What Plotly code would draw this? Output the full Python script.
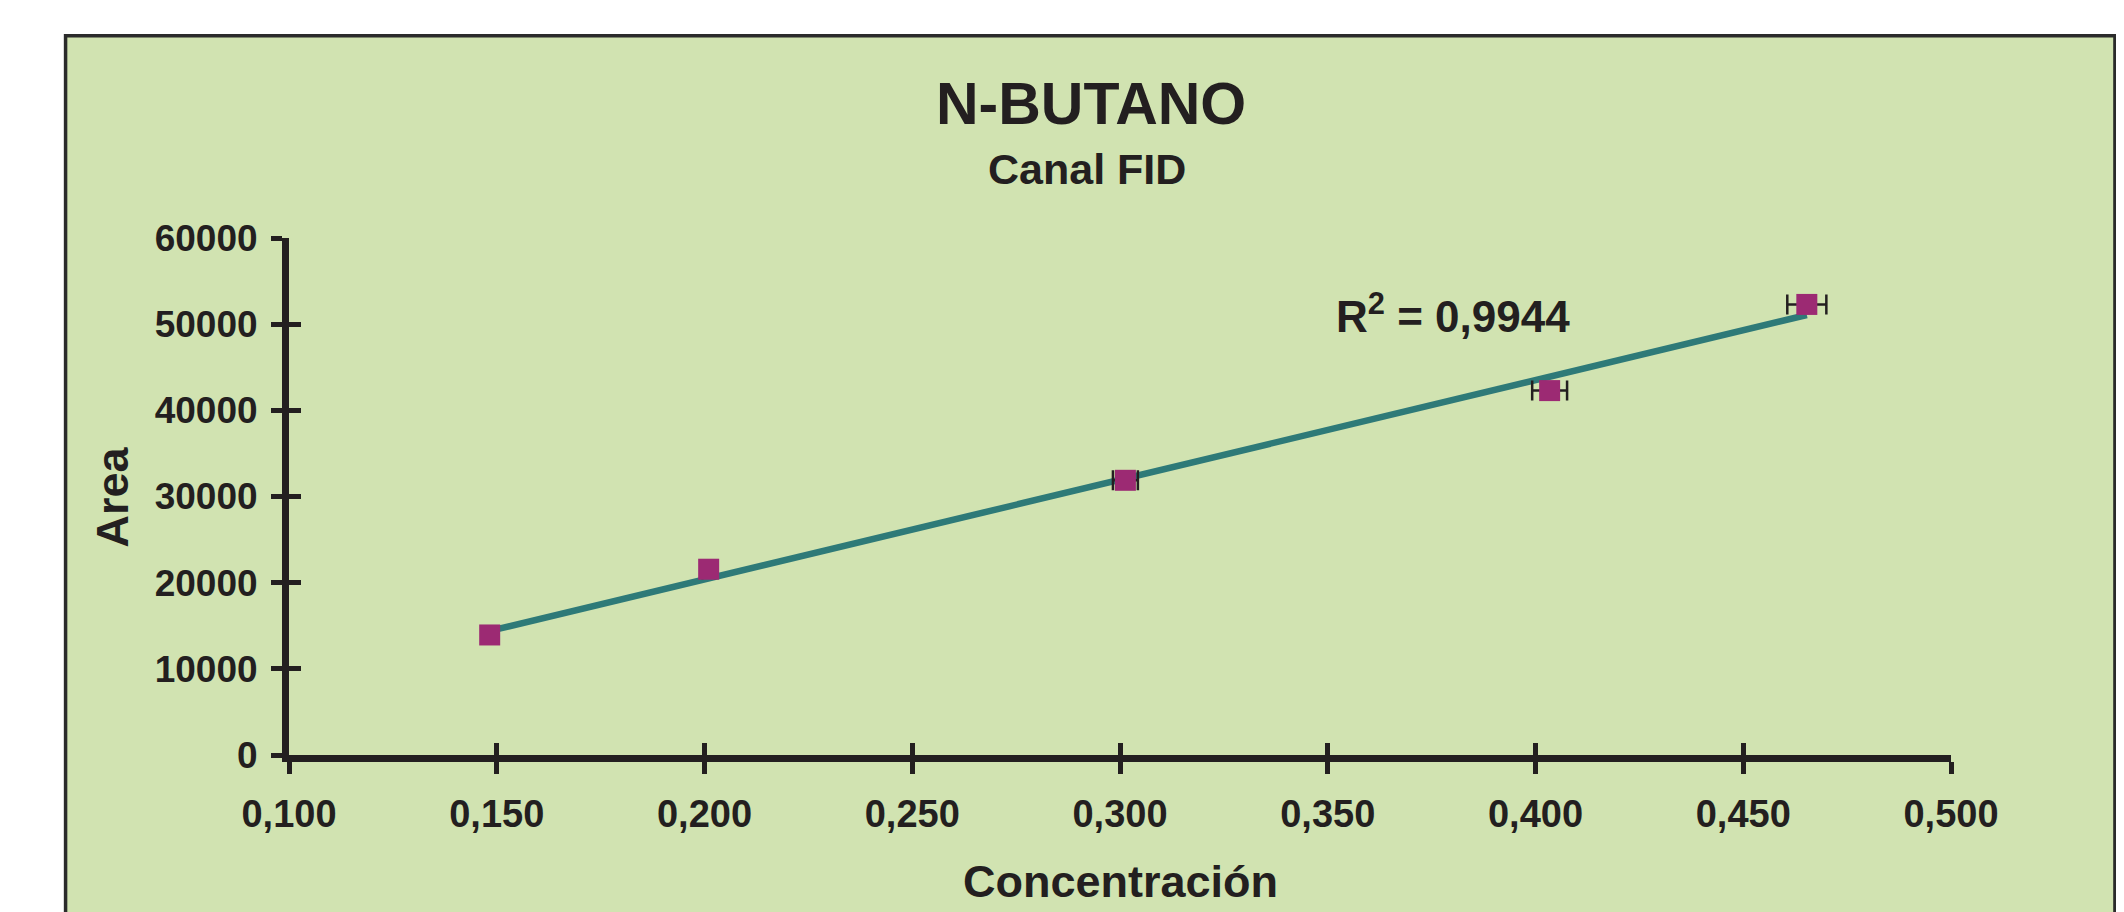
import numpy as np
import plotly.graph_objects as go

# ---- data ----
concentracion = [0.1483, 0.2010, 0.3013, 0.4034, 0.4653]
area = [13930, 21560, 31880, 42290, 52290]
error_conc = [0.0010, 0.0015, 0.0030, 0.0042, 0.0047]
x_ticks = [0.100, 0.150, 0.200, 0.250, 0.300, 0.350, 0.400, 0.450, 0.500]
x_tick_labels = ["0,100", "0,150", "0,200", "0,250", "0,300", "0,350", "0,400", "0,450", "0,500"]
y_ticks = [0, 10000, 20000, 30000, 40000, 50000, 60000]
y_tick_labels = ["0", "10000", "20000", "30000", "40000", "50000", "60000"]
title_text = "N-BUTANO"
subtitle_text = "Canal FID"
r2_text = "R<sup>2</sup> = 0,9944"
x_title = "Concentración"
y_title = "Area"

# linear trend line from the data
slope, intercept = np.polyfit(concentracion, area, 1)
trend_x = [min(concentracion), max(concentracion)]
trend_y = [slope * v + intercept for v in trend_x]

OFF = 8  # page body margin
W, H = 2124 - OFF, 912 - OFF
L, R, T, B = 288.5 - OFF, 1951.0 - OFF, 238.4 - OFF, 755.5 - OFF  # plot area in px
FONT = "Liberation Sans, Arial, Helvetica, sans-serif"
TXT = "#231F20"
GREEN = "#D1E3B1"


def px2x(px):
    return (px - OFF - L) / (R - L)


def px2y(py):
    return (B - (py - OFF)) / (B - T)


fig = go.Figure()

fig.add_trace(go.Scatter(
    x=trend_x, y=trend_y, mode="lines",
    line=dict(color="#2E7A78", width=6.5),
    hoverinfo="skip", showlegend=False,
))
fig.add_trace(go.Scatter(
    x=concentracion, y=area, mode="markers",
    marker=dict(symbol="square", size=21, color="#9C2A73", line=dict(width=0)),
    error_x=dict(type="data", array=error_conc, visible=True,
                 color=TXT, thickness=2.5, width=10),
    showlegend=False,
))
# invisible trace on overlay axes (for crossing ticks)
fig.add_trace(go.Scatter(x=[0.3], y=[30000], xaxis="x2", yaxis="y2", mode="markers",
                         marker=dict(opacity=0), showlegend=False, hoverinfo="skip"))

axis_common = dict(showgrid=False, zeroline=False)
fig.update_layout(
    width=W, height=H,
    margin=dict(l=L, r=W - R, t=T, b=H - B, pad=0),
    paper_bgcolor="white",
    plot_bgcolor="rgba(0,0,0,0)",
    xaxis=dict(range=[0.1, 0.5], tickvals=x_ticks, ticktext=x_tick_labels,
               showline=True, linecolor=TXT, linewidth=7,
               ticks="outside", ticklen=12, tickwidth=5, tickcolor=TXT,
               tickfont=dict(family=FONT, size=38, color=TXT, weight="bold"),
               ticklabelstandoff=7, **axis_common),
    yaxis=dict(range=[0, 60000], tickvals=y_ticks, ticktext=y_tick_labels,
               showline=True, linecolor=TXT, linewidth=7,
               ticks="outside", ticklen=11, tickwidth=5, tickcolor=TXT,
               tickfont=dict(family=FONT, size=37, color=TXT, weight="bold"),
               ticklabelstandoff=6, **axis_common),
    xaxis2=dict(range=[0.1, 0.5], tickvals=x_ticks, overlaying="x", anchor="y",
                side="bottom", showline=False, ticks="inside", ticklen=12,
                tickwidth=5, tickcolor=TXT, showticklabels=False, **axis_common),
    yaxis2=dict(range=[0, 60000], tickvals=y_ticks, overlaying="y", anchor="x",
                side="left", showline=False, ticks="inside", ticklen=12,
                tickwidth=5, tickcolor=TXT, showticklabels=False, **axis_common),
    shapes=[
        dict(type="rect", xref="paper", yref="paper", layer="below",
             x0=px2x(65), x1=px2x(2115), y0=px2y(960), y1=px2y(36),
             fillcolor=GREEN, line=dict(color="#2B2B2B", width=3.5)),
        dict(type="line", xref="paper", yref="paper", layer="below",
             x0=px2x(2119.5), x1=px2x(2119.5), y0=px2y(960), y1=px2y(-10),
             line=dict(color="#555555", width=1.5)),
    ],
    annotations=[
        dict(text=title_text, xref="paper", yref="paper", x=px2x(1090.5), y=px2y(104),
             xanchor="center", yanchor="middle", showarrow=False,
             font=dict(family=FONT, size=59, color=TXT, weight="bold")),
        dict(text=subtitle_text, xref="paper", yref="paper", x=px2x(1087), y=px2y(169),
             xanchor="center", yanchor="middle", showarrow=False,
             font=dict(family=FONT, size=43, color=TXT, weight="bold")),
        dict(text=r2_text, xref="paper", yref="paper", x=px2x(1453), y=px2y(314),
             xanchor="center", yanchor="middle", showarrow=False,
             font=dict(family=FONT, size=44, color=TXT, weight="bold")),
        dict(text=x_title, xref="paper", yref="paper", x=px2x(1120), y=px2y(882),
             xanchor="center", yanchor="middle", showarrow=False,
             font=dict(family=FONT, size=45, color=TXT, weight="bold")),
        dict(text=y_title, xref="paper", yref="paper", x=px2x(111), y=px2y(497.5),
             xanchor="center", yanchor="middle", showarrow=False, textangle=-90,
             font=dict(family=FONT, size=45, color=TXT, weight="bold")),
    ],
)

fig.write_html("out.html")
